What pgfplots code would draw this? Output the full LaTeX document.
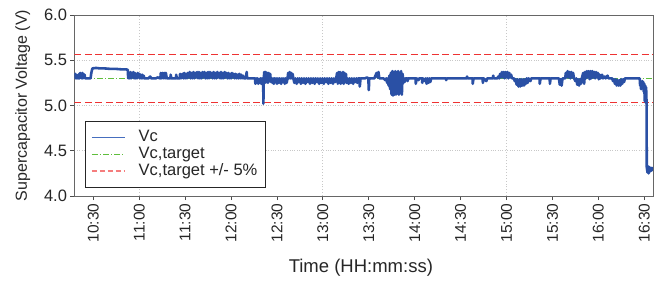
\documentclass[border=0pt]{standalone}
\usepackage{pgfplots}
\pgfplotsset{compat=1.18}
\usepackage{fontspec}
\setmainfont{Liberation Sans}
\definecolor{vcblue}{RGB}{42,80,165}
\definecolor{vclegend}{RGB}{70,110,190}
\definecolor{tgreen}{RGB}{95,190,60}
\definecolor{bred}{RGB}{238,50,50}
\definecolor{bredlight}{RGB}{245,125,125}
\definecolor{txt}{RGB}{38,38,38}
\definecolor{gridc}{RGB}{200,200,200}
\begin{document}
\begin{tikzpicture}
\begin{axis}[
  scale only axis, width=578.5bp, height=181bp,
  xmin=10.295, xmax=16.595, ymin=4, ymax=6,
  xtick={10.5,11,11.5,12,12.5,13,13.5,14,14.5,15,15.5,16,16.5},
  xticklabels={10:30,11:00,11:30,12:00,12:30,13:00,13:30,14:00,14:30,15:00,15:30,16:00,16:30},
  ytick={4,4.5,5,5.5,6},
  yticklabel style={font=\fontsize{16.5bp}{18bp}\selectfont, text=txt, /pgf/number format/fixed, /pgf/number format/fixed zerofill, /pgf/number format/precision=1, /pgf/number format/assume math mode=true},
  xticklabel style={rotate=90, anchor=east, font=\fontsize{15.5bp}{17bp}\selectfont, text=txt},
  tick align=outside, major tick length=4bp,
  xtick pos=left, ytick pos=left,
  tick style={black!70, line width=0.8bp},
  axis line style={black!60, line width=1bp},
  ymajorgrids, major grid style={gridc, dotted, line width=0.9bp},
  xlabel={Time (HH:mm:ss)},
  xlabel style={at={(axis description cs:0.495,-0.42)}, anchor=base, font=\fontsize{18.5bp}{20bp}\selectfont, text=txt},
  ylabel={Supercapacitor Voltage (V)},
  ylabel style={at={(axis description cs:-0.1029,0.5)}, anchor=north, rotate=0, inner sep=0pt, font=\fontsize{16bp}{18bp}\selectfont, text=txt},
  legend image code/.code={\draw[#1] (0bp,0bp) -- (33bp,0bp);},
  legend style={at={(axis description cs:0.0181,0.0459)}, anchor=south west,
    draw=black!85, line width=0.8bp, fill=white, text=txt,
    font=\fontsize{16.5bp}{18bp}\selectfont,
    inner xsep=5.7bp, inner ysep=8bp,
    nodes={inner xsep=2bp, inner ysep=0.6bp, text height=12bp, text depth=3.5bp},
    /tikz/every odd column/.style={column sep=11bp}},
  legend cell align=left,
]
\addlegendimage{vclegend, line width=1.2bp}
\addlegendentry{Vc}
\addlegendimage{tgreen, line width=1.1bp, dash pattern=on 6bp off 2bp on 1.2bp off 2bp}
\addlegendentry{Vc,target}
\addlegendimage{bredlight, line width=1.6bp, dash pattern=on 5bp off 3bp}
\addlegendentry{Vc,target +/- 5\%}

\draw[gridc, dotted, line width=0.9bp] (axis cs:11,4) -- (axis cs:11,6);
\draw[gridc, dotted, line width=0.9bp] (axis cs:13,4) -- (axis cs:13,6);
\draw[gridc, dotted, line width=0.9bp] (axis cs:15,4) -- (axis cs:15,6);

\addplot[forget plot, bred, line width=1.5bp, dash pattern=on 7bp off 3.5bp] coordinates {(10.295,5.565) (16.595,5.565)};
\addplot[forget plot, bred, line width=1.5bp, dash pattern=on 7bp off 3.5bp] coordinates {(10.295,5.035) (16.595,5.035)};
\addplot[forget plot, tgreen, line width=1.1bp, dash pattern=on 6bp off 2bp on 1.2bp off 2bp] coordinates {(10.297,5.3) (16.595,5.3)};

\addplot[forget plot, vcblue, line width=2.6bp, line join=round] table[row sep=\\] {
x y\\
10.297 5.31\\ 10.303 5.35\\ 10.309 5.30\\ 10.315 5.34\\ 10.321 5.30\\ 10.327 5.31\\ 10.333 5.30\\ 10.339 5.30\\ 10.345 5.35\\ 10.351 5.30\\
10.357 5.36\\ 10.363 5.31\\ 10.369 5.35\\ 10.375 5.30\\ 10.381 5.36\\ 10.387 5.30\\ 10.393 5.35\\ 10.399 5.31\\ 10.405 5.34\\ 10.41 5.30\\
10.47 5.30\\ 10.478 5.36\\ 10.49 5.41\\ 10.53 5.415\\ 10.57 5.41\\ 10.62 5.41\\ 10.68 5.405\\ 10.74 5.405\\ 10.80 5.40\\ 10.85 5.40\\ 10.875 5.395\\ 10.88 5.30\\
10.888 5.36\\ 10.896 5.30\\ 10.904 5.37\\ 10.912 5.30\\ 10.920 5.36\\ 10.928 5.31\\ 10.936 5.37\\ 10.944 5.30\\ 10.952 5.36\\ 10.960 5.30\\
10.968 5.35\\ 10.976 5.30\\ 10.984 5.36\\ 10.992 5.31\\ 11.000 5.35\\ 11.008 5.30\\ 11.016 5.34\\ 11.024 5.30\\ 11.032 5.34\\ 11.040 5.30\\ 11.048 5.33\\ 11.056 5.30\\
11.10 5.30\\ 11.12 5.32\\ 11.13 5.30\\ 11.18 5.30\\ 11.20 5.31\\ 11.23 5.30\\
11.235 5.36\\ 11.245 5.30\\ 11.255 5.36\\ 11.262 5.30\\ 11.272 5.36\\ 11.282 5.30\\ 11.29 5.36\\ 11.30 5.30\\
11.34 5.30\\ 11.342 5.34\\ 11.35 5.30\\ 11.40 5.30\\ 11.402 5.34\\ 11.41 5.30\\ 11.44 5.30\\ 11.445 5.35\\ 11.455 5.30\\ 11.47 5.35\\ 11.48 5.30\\
11.49 5.36\\ 11.50 5.30\\ 11.51 5.35\\ 11.52 5.30\\ 11.53 5.36\\ 11.54 5.31\\ 11.55 5.37\\ 11.56 5.30\\ 11.57 5.36\\ 11.58 5.30\\
11.59 5.37\\ 11.60 5.30\\ 11.61 5.36\\ 11.62 5.31\\ 11.63 5.37\\ 11.64 5.30\\ 11.65 5.37\\ 11.66 5.30\\ 11.67 5.36\\ 11.68 5.30\\
11.69 5.37\\ 11.70 5.31\\ 11.71 5.37\\ 11.72 5.30\\ 11.73 5.36\\ 11.74 5.30\\ 11.75 5.37\\ 11.76 5.30\\ 11.77 5.37\\ 11.78 5.31\\
11.79 5.36\\ 11.80 5.30\\ 11.81 5.37\\ 11.82 5.30\\ 11.83 5.36\\ 11.84 5.30\\ 11.85 5.37\\ 11.86 5.31\\ 11.87 5.36\\ 11.88 5.30\\
11.89 5.37\\ 11.90 5.30\\ 11.91 5.36\\ 11.92 5.30\\ 11.93 5.37\\ 11.94 5.31\\ 11.95 5.36\\ 11.96 5.30\\ 11.97 5.36\\ 11.98 5.30\\
11.99 5.35\\ 12.00 5.30\\ 12.01 5.36\\ 12.02 5.31\\ 12.03 5.35\\ 12.04 5.30\\ 12.05 5.35\\ 12.06 5.30\\ 12.07 5.34\\ 12.08 5.30\\
12.09 5.35\\ 12.10 5.30\\ 12.11 5.34\\ 12.12 5.30\\ 12.13 5.33\\ 12.14 5.30\\ 12.16 5.30\\ 12.17 5.37\\ 12.175 5.30\\
12.26 5.30\\ 12.265 5.24\\ 12.272 5.30\\ 12.28 5.25\\ 12.288 5.30\\ 12.296 5.24\\ 12.304 5.29\\ 12.312 5.25\\ 12.32 5.30\\ 12.328 5.24\\ 12.336 5.30\\ 12.344 5.26\\ 12.35 5.30\\
12.352 5.02\\ 12.356 5.30\\
12.362 5.37\\ 12.37 5.25\\ 12.378 5.37\\ 12.386 5.26\\ 12.394 5.36\\ 12.402 5.25\\ 12.41 5.36\\ 12.418 5.27\\ 12.426 5.35\\ 12.434 5.26\\ 12.442 5.30\\ 12.45 5.25\\ 12.458 5.30\\ 12.466 5.24\\ 12.474 5.30\\ 12.48 5.26\\
12.49 5.30\\ 12.50 5.24\\ 12.51 5.30\\ 12.52 5.25\\ 12.53 5.30\\ 12.545 5.24\\ 12.555 5.30\\ 12.565 5.26\\ 12.575 5.30\\ 12.585 5.24\\ 12.595 5.30\\ 12.605 5.25\\ 12.615 5.30\\
12.622 5.36\\ 12.63 5.30\\ 12.638 5.37\\ 12.646 5.30\\ 12.654 5.36\\ 12.662 5.30\\ 12.67 5.35\\ 12.678 5.30\\
12.69 5.25\\ 12.70 5.30\\ 12.715 5.24\\ 12.725 5.30\\ 12.735 5.26\\ 12.745 5.30\\ 12.76 5.24\\ 12.77 5.30\\ 12.785 5.25\\ 12.795 5.30\\
12.81 5.24\\ 12.82 5.30\\ 12.835 5.26\\ 12.845 5.30\\ 12.86 5.24\\ 12.87 5.30\\ 12.885 5.25\\ 12.895 5.30\\ 12.91 5.24\\ 12.92 5.30\\
12.935 5.26\\ 12.945 5.30\\ 12.96 5.24\\ 12.97 5.30\\ 12.985 5.25\\ 12.995 5.30\\ 13.01 5.24\\ 13.02 5.30\\ 13.035 5.26\\ 13.045 5.30\\
13.06 5.24\\ 13.07 5.30\\ 13.085 5.25\\ 13.095 5.30\\ 13.11 5.24\\ 13.12 5.30\\ 13.135 5.26\\ 13.145 5.30\\
13.155 5.36\\ 13.163 5.24\\ 13.171 5.37\\ 13.179 5.25\\ 13.187 5.37\\ 13.195 5.24\\ 13.203 5.36\\ 13.211 5.25\\ 13.219 5.37\\ 13.227 5.24\\
13.235 5.36\\ 13.243 5.26\\ 13.251 5.35\\ 13.259 5.25\\ 13.267 5.30\\ 13.28 5.24\\ 13.29 5.30\\ 13.305 5.25\\ 13.315 5.30\\ 13.33 5.24\\
13.34 5.30\\ 13.355 5.26\\ 13.365 5.30\\ 13.375 5.25\\ 13.385 5.30\\
13.40 5.30\\ 13.402 5.21\\ 13.41 5.30\\ 13.46 5.30\\ 13.48 5.31\\ 13.495 5.30\\ 13.50 5.17\\ 13.505 5.30\\ 13.56 5.30\\
13.585 5.36\\ 13.595 5.31\\ 13.605 5.37\\ 13.615 5.30\\ 13.66 5.30\\ 13.68 5.28\\ 13.69 5.30\\
13.70 5.25\\ 13.708 5.30\\ 13.716 5.22\\ 13.724 5.33\\ 13.732 5.18\\ 13.74 5.36\\ 13.748 5.12\\ 13.756 5.38\\ 13.764 5.11\\ 13.772 5.37\\
13.78 5.12\\ 13.788 5.38\\ 13.796 5.12\\ 13.804 5.37\\ 13.812 5.20\\ 13.82 5.38\\ 13.828 5.12\\ 13.836 5.36\\ 13.844 5.22\\ 13.852 5.38\\
13.86 5.12\\ 13.868 5.35\\ 13.876 5.25\\ 13.884 5.30\\ 13.89 5.26\\ 13.90 5.30\\
13.92 5.30\\ 13.922 5.27\\ 13.93 5.30\\ 14.01 5.30\\ 14.012 5.24\\ 14.02 5.30\\ 14.04 5.28\\ 14.05 5.30\\ 14.08 5.30\\ 14.082 5.25\\
14.09 5.30\\ 14.11 5.27\\ 14.12 5.30\\ 14.13 5.24\\ 14.14 5.30\\ 14.15 5.25\\ 14.16 5.30\\ 14.17 5.26\\ 14.18 5.30\\ 14.34 5.30\\
14.342 5.28\\ 14.35 5.30\\ 14.565 5.30\\ 14.57 5.32\\ 14.575 5.30\\ 14.63 5.30\\ 14.632 5.24\\ 14.64 5.30\\ 14.74 5.30\\ 14.742 5.25\\
14.75 5.30\\ 14.78 5.27\\ 14.79 5.30\\ 14.85 5.30\\ 14.855 5.33\\ 14.86 5.30\\ 14.90 5.30\\ 14.91 5.32\\
14.92 5.30\\ 14.93 5.35\\ 14.94 5.31\\ 14.95 5.37\\ 14.96 5.31\\ 14.97 5.37\\ 14.98 5.30\\ 14.99 5.37\\ 15.00 5.31\\ 15.01 5.37\\
15.02 5.30\\ 15.03 5.36\\ 15.04 5.31\\ 15.05 5.34\\ 15.06 5.30\\
15.08 5.30\\ 15.09 5.27\\ 15.10 5.29\\ 15.11 5.23\\ 15.12 5.29\\ 15.13 5.21\\ 15.14 5.29\\ 15.15 5.21\\ 15.16 5.29\\ 15.17 5.22\\
15.18 5.29\\ 15.19 5.22\\ 15.20 5.29\\ 15.21 5.24\\ 15.22 5.30\\ 15.23 5.25\\ 15.24 5.30\\ 15.26 5.27\\ 15.27 5.30\\ 15.36 5.30\\
15.362 5.24\\ 15.37 5.30\\ 15.47 5.30\\ 15.472 5.24\\ 15.48 5.30\\ 15.57 5.30\\ 15.58 5.23\\ 15.59 5.29\\ 15.60 5.22\\ 15.61 5.30\\ 15.63 5.30\\
15.64 5.30\\ 15.645 5.36\\ 15.655 5.31\\ 15.665 5.38\\ 15.675 5.31\\ 15.685 5.37\\ 15.695 5.30\\ 15.705 5.37\\ 15.715 5.31\\ 15.725 5.36\\ 15.735 5.30\\
15.75 5.27\\ 15.76 5.30\\ 15.77 5.23\\ 15.78 5.29\\ 15.79 5.22\\ 15.80 5.29\\ 15.81 5.24\\ 15.82 5.30\\
15.835 5.36\\ 15.845 5.24\\ 15.855 5.37\\ 15.865 5.30\\ 15.875 5.38\\ 15.885 5.31\\ 15.895 5.38\\ 15.905 5.29\\ 15.915 5.38\\ 15.925 5.30\\
15.935 5.38\\ 15.945 5.31\\ 15.955 5.37\\ 15.965 5.30\\ 15.975 5.37\\ 15.985 5.31\\ 15.995 5.36\\ 16.005 5.29\\ 16.015 5.34\\ 16.025 5.30\\
16.04 5.34\\ 16.05 5.30\\ 16.07 5.32\\ 16.08 5.30\\ 16.10 5.33\\ 16.11 5.30\\
16.15 5.30\\ 16.16 5.27\\ 16.17 5.29\\ 16.18 5.24\\ 16.19 5.29\\ 16.20 5.22\\ 16.21 5.28\\ 16.22 5.22\\ 16.23 5.28\\ 16.24 5.22\\
16.25 5.29\\ 16.26 5.24\\ 16.27 5.29\\ 16.28 5.26\\ 16.29 5.30\\ 16.45 5.30\\
16.455 5.22\\ 16.46 5.27\\ 16.465 5.18\\ 16.47 5.26\\ 16.475 5.19\\ 16.48 5.27\\ 16.485 5.20\\ 16.49 5.26\\ 16.495 5.15\\ 16.50 5.24\\
16.505 5.05\\ 16.51 5.22\\ 16.515 5.03\\ 16.52 5.20\\ 16.525 5.02\\
16.527 4.32\\ 16.535 4.26\\ 16.54 4.33\\ 16.548 4.25\\ 16.555 4.32\\ 16.562 4.27\\ 16.57 4.31\\ 16.578 4.28\\ 16.585 4.31\\ 16.595 4.30\\
};
\end{axis}
\path (current axis.south west) ++(-74.5bp,-86bp) rectangle ++(661bp,282bp);
\end{tikzpicture}
\end{document}
